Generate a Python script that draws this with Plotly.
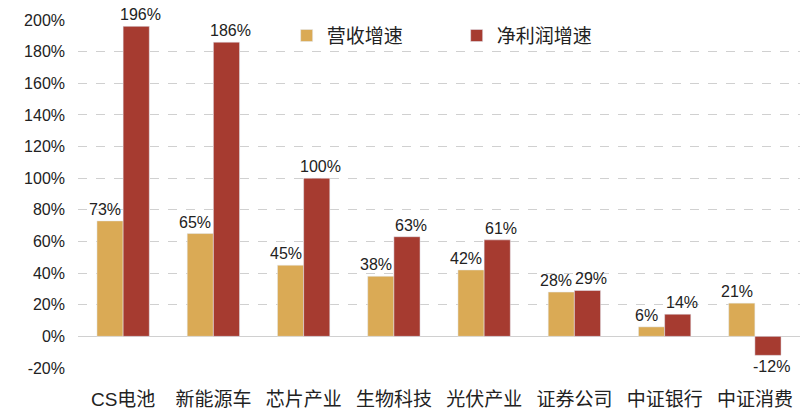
import plotly.graph_objects as go

categories = ["CS电池", "新能源车", "芯片产业", "生物科技", "光伏产业", "证券公司", "中证银行", "中证消费"]
revenue_growth = [73, 65, 45, 38, 42, 28, 6, 21]
profit_growth = [196, 186, 100, 63, 61, 29, 14, -12]
y_ticks = [-20, 0, 20, 40, 60, 80, 100, 120, 140, 160, 180, 200]

font_family = "Liberation Sans, Noto Sans CJK SC, sans-serif"

fig = go.Figure()
fig.add_trace(go.Bar(name="营收增速", x=categories, y=revenue_growth, marker_color="#DAAA55"))
fig.add_trace(go.Bar(name="净利润增速", x=categories, y=profit_growth, marker_color="#A63B30"))

# value labels, placed over each bar of the grouped pair
for series, shift in ((revenue_growth, -18), (profit_growth, 17)):
    for cat, v in zip(categories, series):
        fig.add_annotation(
            x=cat, y=v, text=f"{v}%", showarrow=False,
            xshift=shift, yshift=1 if v >= 0 else -1,
            yanchor="bottom" if v >= 0 else "top",
            font=dict(size=16, color="#222"),
        )

fig.update_layout(
    width=800, height=416,
    margin=dict(l=78, r=0, t=20, b=48),
    paper_bgcolor="white", plot_bgcolor="white",
    barmode="group", bargap=0.42, bargroupgap=0,
    font=dict(family=font_family, color="#222"),
    legend=dict(orientation="h", x=0.289, y=0.955, xanchor="left", yanchor="middle",
                font=dict(size=19), bgcolor="rgba(255,255,255,0)",
                itemwidth=30, traceorder="normal", entrywidth=125),
    showlegend=True,
)
fig.update_xaxes(
    showline=False, showgrid=False, ticks="",
    tickfont=dict(size=19, color="#222"), ticklabelstandoff=18,
)
fig.update_yaxes(
    range=[-20, 200], tickvals=y_ticks, ticktext=[f"{v}%" for v in y_ticks],
    showgrid=True, gridcolor="#D0D0D0", griddash="dash", gridwidth=1,
    zeroline=True, zerolinecolor="#D0D0D0", zerolinewidth=1,
    tickfont=dict(size=16, color="#222"), ticks="", ticklabelstandoff=12,
)

fig.write_html("out.html")
